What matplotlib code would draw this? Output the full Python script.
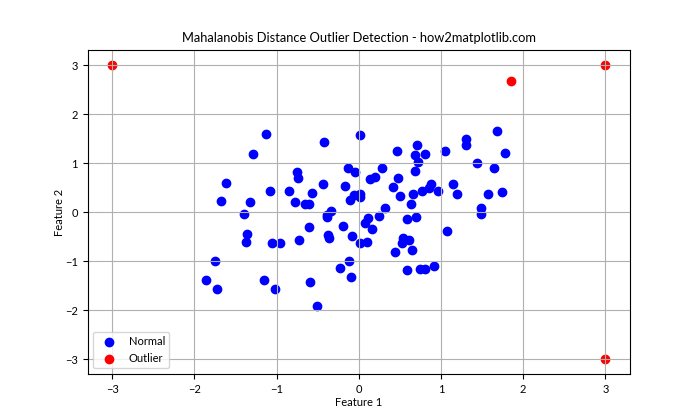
import matplotlib.pyplot as plt
import numpy as np

plt.rcParams['font.family'] = ['Lato', 'DejaVu Sans']
plt.rcParams['font.size'] = 8

#normal points (feature 1, feature 2)
X_NORMAL = [-1.13, -1.29, -1.61, -1.67, -1.32, -1.39, -1.08, -0.75, -0.74, -0.85,
            -0.57, -0.78, -0.65, -0.61, -0.42, -0.44, 0.02, -0.13, -0.05, -0.17,
            0.14, 0.20, 0.28, 0.46, 0.71, 0.69, 0.81, 0.72, 1.05, 0.69,
            0.48, 0.42, 0.50, 0.66, 0.77, 0.85, 0.88, 0.96, -0.06, 0.02,
            0.02, -0.11, 0.64, 0.32, -0.34, -0.39, -0.39, 0.11, 0.25, 0.59,
            0.70, 1.68, 1.31, 1.31, 1.78, 1.44, 1.65, 1.15, 1.19, 1.57,
            1.74, 1.49, 1.49, -1.36, -1.37, -1.05, -0.96, -0.73, -0.61, -1.75,
            -1.86, -1.73, -1.15, -1.02, -0.59, -0.51, -0.19, -0.37, -0.36, -0.08,
            0.02, 0.10, 0.08, 0.16, 0.54, 0.61, 0.53, 0.65, 0.44, -0.12,
            -0.23, -0.09, 0.59, 0.75, 0.80, 0.92, 1.07]
Y_NORMAL = [1.59, 1.18, 0.59, 0.22, 0.20, -0.03, 0.44, 0.81, 0.70, 0.44,
            0.40, 0.20, 0.16, 0.16, 1.44, 0.57, 1.57, 0.91, 0.81, 0.54,
            0.67, 0.71, 0.89, 1.24, 1.36, 1.16, 1.18, 1.03, 1.24, 0.83,
            0.69, 0.52, 0.32, 0.36, 0.44, 0.50, 0.57, 0.44, 0.34, 0.36,
            0.30, 0.24, 0.16, 0.08, 0.03, -0.05, -0.11, -0.12, -0.08, -0.15,
            -0.11, 1.65, 1.49, 1.36, 1.20, 1.01, 0.91, 0.57, 0.37, 0.37,
            0.41, 0.08, -0.03, -0.44, -0.62, -0.64, -0.64, -0.56, -0.31, -0.99,
            -1.39, -1.56, -1.39, -1.56, -1.42, -1.92, -0.28, -0.46, -0.52, -0.48,
            -0.64, -0.62, -0.23, -0.35, -0.52, -0.56, -0.64, -0.78, -0.82, -0.99,
            -1.15, -1.33, -1.19, -1.17, -1.17, -1.09, -0.39]

#outliers
X_OUT = [-3, 3, 3, 1.85]
Y_OUT = [3, 3, -3, 2.68]


#PLOT
plt.figure(figsize=(7, 4.2), dpi=100)
plt.scatter(X_NORMAL, Y_NORMAL, color='blue', label='Normal')
plt.scatter(X_OUT, Y_OUT, color='red', label='Outlier')

plt.title('Mahalanobis Distance Outlier Detection - how2matplotlib.com', fontsize=9.3)
plt.xlabel('Feature 1', labelpad=1.5)
plt.ylabel('Feature 2', labelpad=0)
plt.legend(loc='lower left')
plt.grid(True)
plt.savefig('out.png')
